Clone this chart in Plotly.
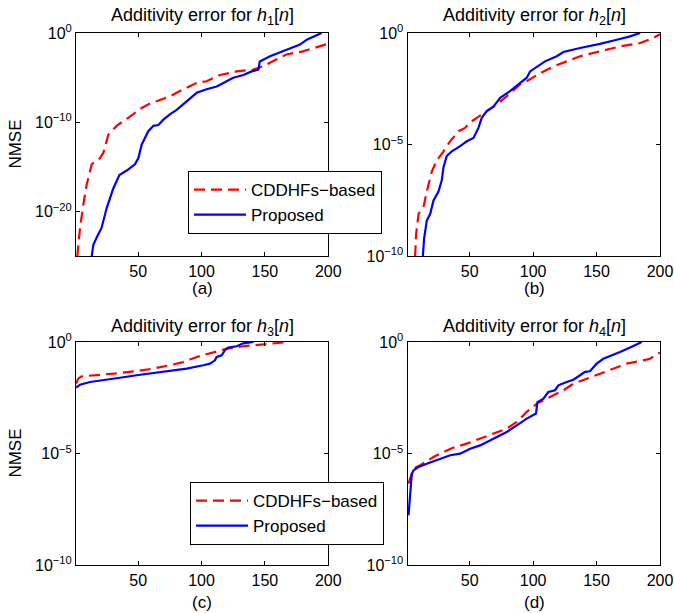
import plotly.graph_objects as go

# ---------------- data (x = n, values given as log10(NMSE)) ----------------
a_cdd_x = [2, 4.2, 6.8, 9.4, 13.4, 19.9, 22.6, 26.5, 33, 38.3, 46, 52.8, 59.4, 67.2, 75, 85.6, 96, 104,
           114.6, 127.7, 140.9, 148.7, 159, 167, 180, 190.8, 198.7, 200]
a_cdd_log = [-25, -21.8, -19.2, -17, -14.7, -14.0, -13.4, -11.4, -10.4, -9.9, -9.1, -8.4, -7.9, -7.5, -7.1,
             -6.3, -5.6, -5.4, -4.7, -4.3, -4.1, -3.7, -3.0, -2.4, -2.05, -1.6, -1.23, -1.2]
a_pro_x = [13.4, 14.7, 17.3, 21.2, 25.2, 30.4, 35.2, 41, 47.5, 50.2, 52.8, 58, 62, 66, 69.9, 75, 80.4,
           87, 90.9, 96.2, 104, 112, 119.8, 125, 133, 139.5, 144.8, 146, 154, 164.5, 169.8, 177.7, 183,
           190.8, 194.7]
a_pro_log = [-25, -23.7, -22.9, -21.8, -19.6, -17.4, -15.9, -15.4, -14.7, -14.0, -12.5, -11.0, -10.4,
             -10.3, -9.7, -9.1, -8.6, -7.8, -7.3, -6.7, -6.3, -6.0, -5.4, -5.0, -4.7, -4.3, -4.1, -3.2,
             -2.6, -2.05, -1.75, -1.3, -0.75, -0.26, 0]

b_cdd_x = [7, 7.8, 9.7, 13.6, 16.2, 20.2, 24.1, 29.4, 34.6, 41.2, 46.4, 50.4, 58.2, 68.7, 79.2, 89.7,
           95, 105.5, 116, 126.5, 137, 152.7, 168.5, 184.3, 194.8, 200]
b_cdd_log = [-10, -9.0, -8.1, -7.8, -7.1, -6.2, -5.7, -5.3, -4.85, -4.4, -4.25, -4.0, -3.7, -3.3, -2.84,
             -2.3, -2.16, -1.8, -1.5, -1.27, -1.04, -0.82, -0.6, -0.45, -0.22, -0.05]
b_pro_x = [13.1, 14.1, 16.2, 18.9, 21.5, 25.4, 28, 29.4, 32, 35.9, 42.5, 47.7, 53, 56.9, 59.5, 63.5,
           68.7, 74, 81.8, 89.7, 95, 97.6, 105.5, 109.4, 118.6, 123.9, 137, 152.7, 165.9, 176.4, 184.3]
b_pro_log = [-10, -9.2, -8.4, -8.1, -7.5, -7.1, -6.6, -6.0, -5.5, -5.3, -5.07, -4.85, -4.7, -4.25, -3.8,
             -3.5, -3.3, -2.9, -2.6, -2.24, -2.0, -1.72, -1.42, -1.27, -1.04, -0.85, -0.67, -0.49, -0.3,
             -0.15, 0]

c_cdd_x = [1, 2.8, 5.5, 17.3, 35.7, 48.8, 62, 75, 85.6, 96.2, 106.7, 119.8, 133, 148.7, 164.5, 168.5]
c_cdd_log = [-1.87, -1.64, -1.54, -1.49, -1.39, -1.3, -1.19, -1.04, -0.9, -0.67, -0.49, -0.3, -0.19,
             -0.1, -0.015, 0]
c_pro_x = [1, 4.2, 12, 22.6, 35.7, 48.8, 62, 75, 88.3, 101.4, 106.7, 110.6, 111.9, 115.9, 118.5, 121.1,
           127.7, 133, 141]
c_pro_log = [-2.04, -1.91, -1.79, -1.69, -1.6, -1.49, -1.39, -1.3, -1.19, -1.04, -0.97, -0.82, -0.67,
             -0.6, -0.37, -0.25, -0.19, -0.06, 0]

d_cdd_x = [1.8, 3.1, 5.7, 11, 21.5, 29.4, 37.2, 47.7, 58.2, 68.7, 79.2, 87.1, 95, 102.9, 113.4, 123.9,
           131.7, 142.2, 152.7, 163.2, 173.7, 184.2, 192.1, 200]
d_cdd_log = [-6.34, -6.12, -5.67, -5.52, -5.15, -4.93, -4.73, -4.55, -4.33, -4.1, -3.88, -3.58, -3.13,
             -2.76, -2.46, -2.16, -1.87, -1.64, -1.42, -1.19, -0.97, -0.85, -0.75, -0.47]
d_pro_x = [1.8, 3.1, 4.4, 5.7, 9.7, 16.2, 24.1, 34.6, 42.5, 50.4, 58.2, 66.1, 71.4, 79.2, 87.1, 95,
           102.3, 103.4, 108.1, 112, 117.3, 119.9, 126.5, 131.7, 137, 140.9, 144.8, 150.1, 155.3, 160.6,
           168.5, 176.4, 184.3, 185.6]
d_pro_log = [-7.76, -6.64, -5.9, -5.75, -5.6, -5.45, -5.3, -5.07, -5.0, -4.78, -4.63, -4.4, -4.25, -4.03,
             -3.73, -3.43, -3.2, -2.69, -2.54, -2.24, -2.16, -1.94, -1.79, -1.69, -1.49, -1.34, -1.31,
             -0.97, -0.75, -0.64, -0.45, -0.25, -0.04, 0]

x_ticks = [50, 100, 150, 200]
a_yticks = [0, -10, -20]
other_yticks = [0, -5, -10]
series_names = ["CDDHFs\u2212based", "Proposed"]
panel_letters = ["(a)", "(b)", "(c)", "(d)"]

# ---------------- figure ----------------
W, H = 674, 613
FONT = "Liberation Sans, Arial, sans-serif"
RED, BLUE = "#ff0000", "#0000ff"

fig = go.Figure()

panels = [
    ("x", "y", a_cdd_x, a_cdd_log, a_pro_x, a_pro_log, "legend"),
    ("x2", "y2", b_cdd_x, b_cdd_log, b_pro_x, b_pro_log, None),
    ("x3", "y3", c_cdd_x, c_cdd_log, c_pro_x, c_pro_log, "legend2"),
    ("x4", "y4", d_cdd_x, d_cdd_log, d_pro_x, d_pro_log, None),
]
for xa, ya, cx, cl, px, pl, leg in panels:
    fig.add_trace(go.Scatter(x=cx, y=[10 ** v for v in cl], xaxis=xa, yaxis=ya, mode="lines",
                             line=dict(color=RED, width=2.2, dash="11px,6px"), name=series_names[0],
                             showlegend=leg is not None, legend=leg or "legend"))
    fig.add_trace(go.Scatter(x=px, y=[10 ** v for v in pl], xaxis=xa, yaxis=ya, mode="lines",
                             line=dict(color=BLUE, width=2.2), name=series_names[1],
                             showlegend=leg is not None, legend=leg or "legend"))

def px2fx(p):
    return p / W

def py2fy(p):
    return 1 - p / H

xdom_l = [px2fx(76), px2fx(328.3)]
xdom_r = [px2fx(407.5), px2fx(660)]
ydom_t = [py2fy(256.3), py2fy(33)]
ydom_b = [py2fy(565.3), py2fy(342)]

axis_common = dict(showline=True, linecolor="black", linewidth=1, mirror="ticks", ticks="inside",
                   ticklen=4, tickcolor="black", showgrid=False, zeroline=False, automargin=False,
                   tickfont=dict(family=FONT, size=16, color="black"))

def sup_label(v):
    return "10<sup>%s</sup>" % (str(v).replace("-", "\u2212"))

layout_axes = {}
for i, (xd, yd, yt, yr) in enumerate([
        (xdom_l, ydom_t, a_yticks, [-25, 0]),
        (xdom_r, ydom_t, other_yticks, [-10, 0]),
        (xdom_l, ydom_b, other_yticks, [-10, 0]),
        (xdom_r, ydom_b, other_yticks, [-10, 0])]):
    sfx = "" if i == 0 else str(i + 1)
    layout_axes["xaxis" + sfx] = dict(domain=xd, range=[1, 200], tickvals=x_ticks,
                                      ticktext=[str(t) for t in x_ticks], anchor="y" + sfx,
                                      **axis_common)
    layout_axes["yaxis" + sfx] = dict(domain=yd, type="log", range=yr,
                                      tickvals=[10 ** t for t in yt],
                                      ticktext=[sup_label(t) for t in yt], anchor="x" + sfx,
                                      **axis_common)

fig.update_layout(**layout_axes)

annotations = []
titles_pos = [(202, 17, 1), (534, 17, 2), (202, 327, 3), (534, 327, 4)]
for (cx, ty, k) in titles_pos:
    annotations.append(dict(text="Additivity error for <i>h</i><sub>%d</sub>[<i>n</i>]" % k,
                            x=px2fx(cx), y=py2fy(ty), xref="paper", yref="paper",
                            xanchor="center", yanchor="middle", showarrow=False,
                            font=dict(family=FONT, size=18, color="black")))
for (cx, cy), lab in zip([(202, 288), (534, 288), (202, 602), (534, 602)], panel_letters):
    annotations.append(dict(text=lab, x=px2fx(cx), y=py2fy(cy), xref="paper", yref="paper",
                            xanchor="center", yanchor="middle", showarrow=False,
                            font=dict(family=FONT, size=17, color="black")))
for cy in [144.6, 453.6]:
    annotations.append(dict(text="NMSE", x=px2fx(16), y=py2fy(cy), xref="paper", yref="paper",
                            xanchor="center", yanchor="middle", showarrow=False, textangle=-90,
                            font=dict(family=FONT, size=17, color="black")))

legend_style = dict(bgcolor="white", bordercolor="black", borderwidth=1,
                    font=dict(family=FONT, size=17, color="black"), xanchor="left", yanchor="top",
                    tracegroupgap=0, itemwidth=52)

fig.update_layout(
    template="none",
    width=W, height=H,
    margin=dict(l=0, r=0, t=0, b=0, autoexpand=False),
    paper_bgcolor="white", plot_bgcolor="white",
    annotations=annotations,
    legend=dict(x=px2fx(188), y=py2fy(171), **legend_style),
    legend2=dict(x=px2fx(190), y=py2fy(482), **legend_style),
    showlegend=True,
)

fig.write_html("out.html", config={"displayModeBar": False},
               post_script="document.body.style.margin='0';document.body.style.padding='0';")
